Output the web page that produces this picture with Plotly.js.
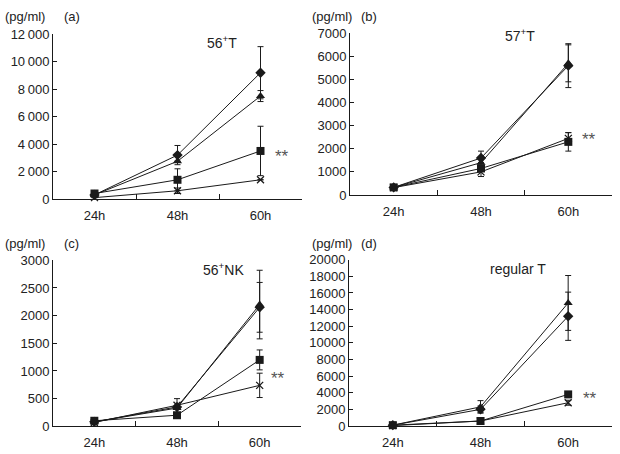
<!DOCTYPE html>
<html>
<head>
<meta charset="utf-8">
<script src="https://cdn.plot.ly/plotly-3.0.1.min.js"></script>
<style>html,body{margin:0;padding:0;background:#fff;}#chart{width:620px;height:454px;}</style>
</head>
<body>
<div id="chart"></div>
<script>
// Categories (time points)
const categories = ["24h", "48h", "60h"];

// Panel (a) 56+T
const aDiamond = [300, 3200, 9200];
const aDiamondErr = [0, 700, 1900];
const aTriangle = [300, 2750, 7500];
const aTriangleErr = [0, 0, 400];
const aSquare = [400, 1400, 3500];
const aSquareErr = [0, 800, 1800];
const aCross = [100, 600, 1400];
const aCrossErr = [0, 200, 0];

// Panel (b) 57+T
const bDiamond = [330, 1600, 5600];
const bDiamondErr = [0, 300, 950];
const bTriangle = [330, 1400, 5700];
const bTriangleErr = [0, 0, 800];
const bSquare = [330, 1150, 2300];
const bSquareErr = [0, 0, 400];
const bCross = [320, 1000, 2450];
const bCrossErr = [0, 200, 250];

// Panel (c) 56+NK
const cDiamond = [80, 350, 2150];
const cDiamondErr = [0, 150, 450];
const cTriangle = [80, 330, 2200];
const cTriangleErr = [0, 0, 620];
const cSquare = [100, 200, 1200];
const cSquareErr = [0, 0, 180];
const cCross = [70, 380, 740];
const cCrossErr = [0, 0, 220];

// Panel (d) regular T
const dDiamond = [100, 2000, 13200];
const dDiamondErr = [0, 400, 2900];
const dTriangle = [100, 2300, 14800];
const dTriangleErr = [0, 750, 3300];
const dSquare = [100, 600, 3800];
const dSquareErr = [0, 0, 300];
const dCross = [50, 600, 2800];
const dCrossErr = [0, 0, 300];

// Y tick labels
const aTickVals = [0, 2000, 4000, 6000, 8000, 10000, 12000];
const aTickText = ["0", "2\u2009000", "4\u2009000", "6\u2009000", "8\u2009000", "10\u2009000", "12\u2009000"];
const bTickVals = [0, 1000, 2000, 3000, 4000, 5000, 6000, 7000];
const bTickText = ["0", "1000", "2000", "3000", "4000", "5000", "6000", "7000"];
const cTickVals = [0, 500, 1000, 1500, 2000, 2500, 3000];
const cTickText = ["0", "500", "1000", "1500", "2000", "2500", "3000"];
const dTickVals = [0, 2000, 4000, 6000, 8000, 10000, 12000, 14000, 16000, 18000, 20000];
const dTickText = ["0", "2000", "4000", "6000", "8000", "10000", "12000", "14000", "16000", "18000", "20000"];

const panelTitles = ["56<sup>+</sup>T", "57<sup>+</sup>T", "56<sup>+</sup>NK", "regular T"];
const panelLetters = ["(a)", "(b)", "(c)", "(d)"];

const INK = "#1a1a1a";
const FONT = "Liberation Sans, Arial, sans-serif";

function series(ax, y, err, symbol, size) {
  return {
    x: categories, y: y, xaxis: "x" + ax, yaxis: "y" + ax,
    type: "scatter", mode: "lines+markers", showlegend: false,
    line: {color: INK, width: 1},
    marker: symbol === "x-thin-open"
      ? {symbol: symbol, size: size, color: INK, line: {color: INK, width: 1.3}}
      : {symbol: symbol, size: size, color: INK},
    error_y: {type: "data", array: err, visible: true, color: INK, thickness: 1, width: 3},
    cliponaxis: false
  };
}

const data = [];
const sets = [
  ["", aDiamond, aDiamondErr, aTriangle, aTriangleErr, aSquare, aSquareErr, aCross, aCrossErr],
  ["2", bDiamond, bDiamondErr, bTriangle, bTriangleErr, bSquare, bSquareErr, bCross, bCrossErr],
  ["3", cDiamond, cDiamondErr, cTriangle, cTriangleErr, cSquare, cSquareErr, cCross, cCrossErr],
  ["4", dDiamond, dDiamondErr, dTriangle, dTriangleErr, dSquare, dSquareErr, dCross, dCrossErr]
];
sets.forEach(s => {
  data.push(series(s[0], s[1], s[2], "diamond", 8));
  data.push(series(s[0], s[3], s[4], "triangle-up", 8));
  data.push(series(s[0], s[5], s[6], "square", 8));
  data.push(series(s[0], s[7], s[8], "x-thin-open", 7));
});

function xax(domain, anchor) {
  return {
    domain: domain, anchor: anchor, type: "category", range: [-0.5, 2.5],
    tickson: "boundaries", ticks: "inside", ticklen: 5, tickcolor: INK, tickwidth: 1,
    showline: true, linecolor: INK, linewidth: 1, showgrid: false, zeroline: false,
    ticklabelstandoff: 4,
    tickfont: {family: FONT, size: 13, color: "#222"}, fixedrange: true
  };
}
function yax(domain, anchor, range, tickvals, ticktext) {
  return {
    domain: domain, anchor: anchor, range: range, tickmode: "array",
    tickvals: tickvals, ticktext: ticktext,
    ticks: "inside", ticklen: 4, tickcolor: INK, tickwidth: 1,
    showline: true, linecolor: INK, linewidth: 1, showgrid: false, zeroline: false,
    tickfont: {family: FONT, size: 13, color: "#222"}, fixedrange: true
  };
}

const W = 620, H = 454;
const px = v => v / W;
const py = v => 1 - v / H;

const layout = {
  width: W, height: H,
  margin: {l: 0, r: 0, t: 0, b: 0},
  paper_bgcolor: "#fff", plot_bgcolor: "#fff",
  font: {family: FONT, color: "#222"},
  xaxis: xax([px(53), px(302)], "y"),
  yaxis: yax([py(199), py(34.3)], "x", [0, 12000], aTickVals, aTickText),
  xaxis2: xax([px(350), px(612)], "y2"),
  yaxis2: yax([py(195), py(33.3)], "x2", [0, 7000], bTickVals, bTickText),
  xaxis3: xax([px(53), px(301)], "y3"),
  yaxis3: yax([py(426.3), py(260.3)], "x3", [0, 3000], cTickVals, cTickText),
  xaxis4: xax([px(349), px(612)], "y4"),
  yaxis4: yax([py(426), py(259.7)], "x4", [0, 20000], dTickVals, dTickText),
  annotations: []
};

const unitPos = [[3, 16.5], [310, 16.5], [3, 243.7], [310, 243.7]];
const letterPos = [[62, 16.5], [359, 16.5], [62, 243.7], [359, 243.7]];
const titlePos = [[222, 42], [520, 35], [223, 268.7], [518, 268.7]];
const starPos = [[282, 156], [589, 139], [278, 378], [590, 398]];

for (let i = 0; i < 4; i++) {
  layout.annotations.push({xref: "paper", yref: "paper", x: px(unitPos[i][0]), y: py(unitPos[i][1]),
    xanchor: "left", yanchor: "middle", showarrow: false, text: "(pg/ml)",
    font: {family: FONT, size: 13, color: "#222"}});
  layout.annotations.push({xref: "paper", yref: "paper", x: px(letterPos[i][0]), y: py(letterPos[i][1]),
    xanchor: "left", yanchor: "middle", showarrow: false, text: panelLetters[i],
    font: {family: FONT, size: 13, color: "#222"}});
  layout.annotations.push({xref: "paper", yref: "paper", x: px(titlePos[i][0]), y: py(titlePos[i][1]),
    xanchor: "center", yanchor: "middle", showarrow: false, text: panelTitles[i],
    font: {family: FONT, size: 14, color: "#222"}});
  layout.annotations.push({xref: "paper", yref: "paper", x: px(starPos[i][0]), y: py(starPos[i][1]),
    xanchor: "center", yanchor: "middle", showarrow: false, text: "**",
    font: {family: FONT, size: 17, color: "#555"}});
}

Plotly.newPlot("chart", data, layout, {staticPlot: true, displayModeBar: false});
</script>
</body>
</html>
